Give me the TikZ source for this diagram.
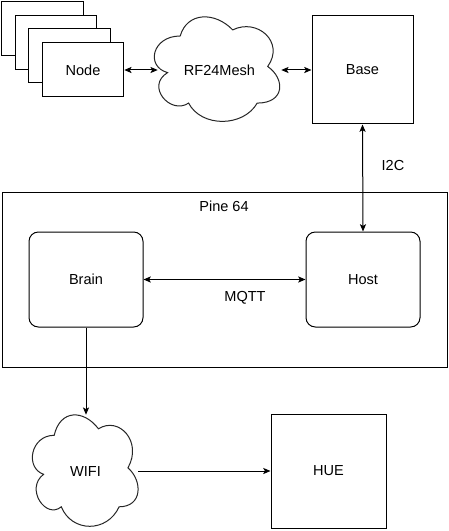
\documentclass[tikz,border=0pt]{standalone}
\usepackage{fontspec}
\setmainfont{Liberation Sans}
\usetikzlibrary{arrows.meta}
\tikzset{
  box/.style={draw=black, line width=0.75pt, fill=white, inner sep=0pt},
  stackbox/.style={box, minimum width=61.1pt, minimum height=40.5pt},
  roundbox/.style={box, rounded corners=7pt, minimum width=85.5pt, minimum height=71.25pt},
  ghost/.style={inner sep=0pt},
  lbl/.style={inner sep=0pt},
  conn/.style={line width=0.75pt, draw=black},
  myarr/.tip={Stealth[length=5.5pt,width=4.6pt,inset=1.3pt]},
  cloudline/.style={line width=0.75pt, draw=black!85, fill=white},
}
\newcommand\mycloud[4]{% x0 y0 w h
  \begin{scope}[shift={(#1,#2)}, xscale=#3, yscale=#4]
    \path[cloudline] (0.25,0.25)
      .. controls (0.05,0.25) and (0,0.5) .. (0.16,0.55)
      .. controls (0,0.66) and (0.18,0.9) .. (0.31,0.8)
      .. controls (0.4,1) and (0.7,1) .. (0.8,0.8)
      .. controls (1,0.8) and (1,0.6) .. (0.875,0.5)
      .. controls (1,0.3) and (0.8,0.1) .. (0.625,0.2)
      .. controls (0.5,0.05) and (0.3,0.05) .. (0.25,0.25) -- cycle;
  \end{scope}}
\begin{document}
\begin{tikzpicture}[x=0.75pt, y=-0.75pt, font=\fontsize{10.9}{13}\selectfont]
\useasboundingbox (0,0) rectangle (449,531);

% stacked nodes
\node[stackbox] (n1) at (42.5,29) {};
\node[stackbox] (n2) at (56,42.5) {};
\node[stackbox] (n3) at (69.5,56) {};
\node[stackbox] (node) at (83,70) {Node};

% RF24Mesh cloud
\mycloud{145.2}{5.5}{140}{122}
\node[ghost, minimum width=92.25pt, minimum height=75pt] (rf) at (219.5,70) {RF24Mesh};

% Base
\node[box, minimum width=75.75pt, minimum height=81pt] (base) at (362.5,70) {Base};

% Pine 64 container
\node[box, fill=none, minimum width=334pt, minimum height=131.25pt] (pine) at (225.3,279.5) {};
\node[lbl] (pinelbl) at (224,206) {Pine 64};

\node[roundbox] (brain) at (86,279.5) {Brain};
\node[roundbox] (host) at (363,279.5) {Host};

% WIFI cloud
\mycloud{24.7}{402.8}{118}{130}
\node[ghost, minimum width=78.75pt, minimum height=84pt] (wifi) at (85.5,471) {WIFI};

% HUE
\node[box, minimum width=86.25pt, minimum height=85.5pt] (hue) at (328.5,471) {HUE};

% labels
\node[lbl] (i2c) at (393,165) {I2C};
\node[lbl] (mqtt) at (245,298) {MQTT};

% connectors
\draw[conn, myarr-myarr] (node.east) -- (rf.west);
\draw[conn, myarr-myarr] (rf.east) -- (base.west);
\draw[conn, myarr-myarr] (base.south) -- (host.north);
\draw[conn, myarr-myarr] (brain.east) -- (host.west);
\draw[conn, -myarr] (brain.south) -- (brain.south |- wifi.north);
\draw[conn, -myarr] (wifi.east) -- (hue.west);
\end{tikzpicture}
\end{document}
